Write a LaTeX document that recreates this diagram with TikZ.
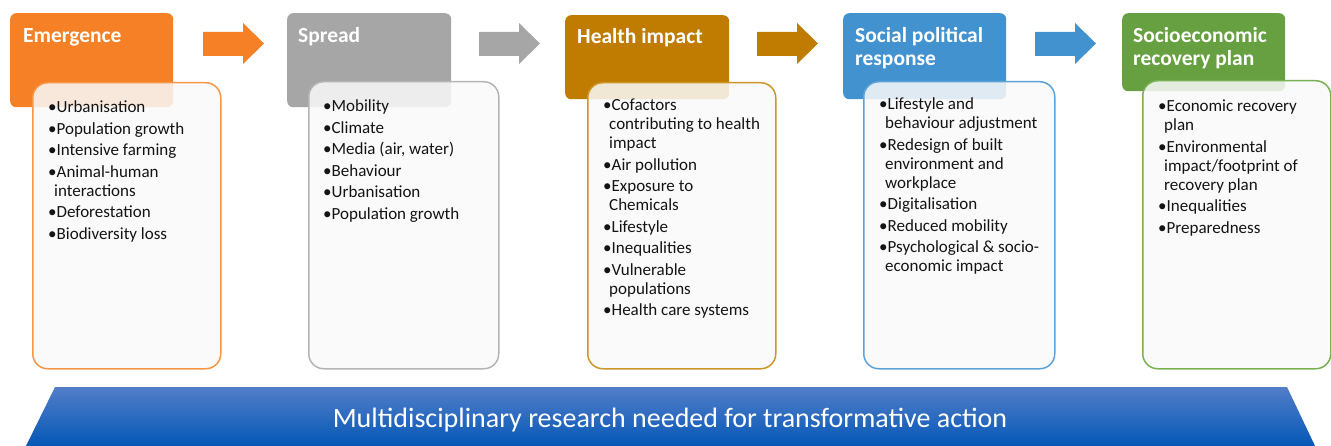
\documentclass[tikz,border=0pt]{standalone}
\usepackage{fontspec}
\setmainfont{Carlito}
\usetikzlibrary{calc}
\definecolor{orgH}{RGB}{245,128,37}
\definecolor{orgB}{RGB}{247,150,70}
\definecolor{grayH}{RGB}{166,166,166}
\definecolor{grayB}{RGB}{180,180,180}
\definecolor{goldH}{RGB}{191,124,0}
\definecolor{goldB}{RGB}{205,150,40}
\definecolor{blueH}{RGB}{67,146,208}
\definecolor{blueB}{RGB}{95,162,216}
\definecolor{greenH}{RGB}{103,160,65}
\definecolor{greenB}{RGB}{122,176,84}
\definecolor{boxfill}{RGB}{249,249,249}
\definecolor{banTop}{RGB}{82,126,200}
\definecolor{banMid}{RGB}{30,96,190}
\definecolor{banBot}{RGB}{2,86,182}
\definecolor{txt}{RGB}{20,20,20}
\newcommand{\wrapind}{\hspace*{6pt}}
\newcommand{\toplines}[1]{\begin{tabular}[t]{@{}l@{}}#1\end{tabular}}
\begin{document}
\begin{tikzpicture}[x=1pt,y=-1pt,
  hdr/.style={rounded corners=6pt, inner sep=0pt, anchor=north west, draw=none},
  bodybox/.style={rounded corners=15pt, line width=1.5pt, fill=boxfill, fill opacity=0.86, anchor=north west, inner sep=0pt},
  htext/.style={text=white, font=\fontsize{21.5}{22.5}\selectfont\bfseries, anchor=base west, inner sep=0pt},
  ltext/.style={text=txt, font=\fontsize{17}{19}\selectfont, anchor=base west, inner sep=0pt}]
\useasboundingbox (0,0) rectangle (1331,446);

% headers
\node[hdr, fill=orgH,   minimum width=163pt, minimum height=94pt] (h1) at (10,13) {};
\node[hdr, fill=grayH,  minimum width=164pt, minimum height=94pt] (h2) at (287,13) {};
\node[hdr, fill=goldH,  minimum width=164pt, minimum height=84pt] (h3) at (565,15) {};
\node[hdr, fill=blueH,  minimum width=163pt, minimum height=86pt] (h4) at (843,13) {};
\node[hdr, fill=greenH, minimum width=163pt, minimum height=78pt] (h5) at (1122,13) {};

% bodies
\node[bodybox, draw=orgB,   minimum width=188pt, minimum height=286pt] (b1) at (32,82) {};
\node[bodybox, draw=grayB,  minimum width=190pt, minimum height=287pt] (b2) at (308,81) {};
\node[bodybox, draw=goldB,  minimum width=188pt, minimum height=286pt] (b3) at (587,82) {};
\node[bodybox, draw=blueB,  minimum width=191pt, minimum height=287pt] (b4) at (863,81) {};
\node[bodybox, draw=greenB, minimum width=188pt, minimum height=288pt] (b5) at (1142,80) {};

% header texts
\node[htext] (t1) at ($(h1.north west)+(13,30)$) {\toplines{Emergence}};
\node[htext] (t2) at ($(h2.north west)+(11,30)$) {\toplines{Spread}};
\node[htext] (t3) at ($(h3.north west)+(12,29)$) {\toplines{Health impact}};
\node[htext] (t4) at ($(h4.north west)+(12,30)$) {\toplines{Social political\\response}};
\node[htext] (t5) at ($(h5.north west)+(11,30)$) {\toplines{Socioeconomic\\recovery plan}};

% lists
\node[ltext] (l1) at ($(b1.north west)+(16,31)$) {\toplines{%
•Urbanisation\\[2.5pt]
•Population growth\\[2.5pt]
•Intensive farming\\[2.5pt]
•Animal-human\\
\wrapind interactions\\[2.5pt]
•Deforestation\\[2.5pt]
•Biodiversity loss}};
\node[ltext] (l2) at ($(b2.north west)+(15,31)$) {\toplines{%
•Mobility\\[2.5pt]
•Climate\\[2.5pt]
•Media (air, water)\\[2.5pt]
•Behaviour\\[2.5pt]
•Urbanisation\\[2.5pt]
•Population growth}};
\node[ltext] (l3) at ($(b3.north west)+(16,29)$) {\toplines{%
•Cofactors\\
\wrapind contributing to health\\
\wrapind impact\\[2.5pt]
•Air pollution\\[2.5pt]
•Exposure to\\
\wrapind Chemicals\\[2.5pt]
•Lifestyle\\[2.5pt]
•Inequalities\\[2.5pt]
•Vulnerable\\
\wrapind populations\\[2.5pt]
•Health care systems}};
\node[ltext] (l4) at ($(b4.north west)+(16,29)$) {\toplines{%
•Lifestyle and\\
\wrapind behaviour adjustment\\[2.5pt]
•Redesign of built\\
\wrapind environment and\\
\wrapind workplace\\[2.5pt]
•Digitalisation\\[2.5pt]
•Reduced mobility\\[2.5pt]
•Psychological \& socio-\\
\wrapind economic impact}};
\node[ltext] (l5) at ($(b5.north west)+(16,32)$) {\toplines{%
•Economic recovery\\
\wrapind plan\\[2.5pt]
•Environmental\\
\wrapind impact/footprint of\\
\wrapind recovery plan\\[2.5pt]
•Inequalities\\[2.5pt]
•Preparedness}};

% block arrows
\foreach \x/\c in {203/orgH, 479/grayH, 757/goldH, 1035/blueH}{
  \fill[\c] (\x,32) -- (\x+40,32) -- (\x+40,23) -- (\x+61,43.5) -- (\x+40,64) -- (\x+40,56) -- (\x,56) -- cycle;
}

% banner
\shade[top color=banTop, middle color=banMid, bottom color=banBot]
  (55,387) -- (1287,387) -- (1316,448) -- (25,448) -- cycle;
\node[text=white, font=\fontsize{28}{30}\selectfont, anchor=base, inner sep=0pt] (bt) at (670,427)
  {Multidisciplinary research needed for transformative action};
\end{tikzpicture}
\end{document}
